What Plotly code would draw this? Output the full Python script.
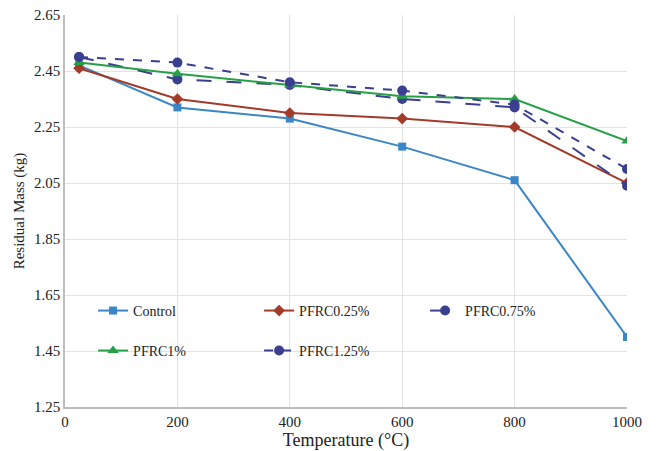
import plotly.graph_objects as go

temps = [25, 200, 400, 600, 800, 1000]
control = [2.47, 2.32, 2.28, 2.18, 2.06, 1.50]
pfrc025 = [2.46, 2.35, 2.30, 2.28, 2.25, 2.05]
pfrc075 = [2.50, 2.42, 2.40, 2.35, 2.32, 2.04]
pfrc1 = [2.48, 2.44, 2.40, 2.36, 2.35, 2.20]
pfrc125 = [2.50, 2.48, 2.41, 2.38, 2.33, 2.10]

x_ticks = [0, 200, 400, 600, 800, 1000]
y_ticks = [1.25, 1.45, 1.65, 1.85, 2.05, 2.25, 2.45, 2.65]

series = [
    ("Control", control, "#3A86C6", "square", "solid", 8, "legend"),
    ("PFRC0.25%", pfrc025, "#A33A2A", "diamond", "solid", 9, "legend"),
    ("PFRC0.75%", pfrc075, "#3A3F8F", "circle", "longdash", 10, "legend"),
    ("PFRC1%", pfrc1, "#26A046", "triangle-up", "solid", 10, "legend2"),
    ("PFRC1.25%", pfrc125, "#3A3F8F", "circle", "dash", 10, "legend2"),
]

fig = go.Figure()
for name, vals, color, sym, dash, size, leg in series:
    fig.add_trace(go.Scatter(
        x=temps, y=vals, name=name, mode="lines+markers",
        line=dict(color=color, width=2, dash=dash),
        marker=dict(symbol=sym, size=size, color=color),
        legend=leg,
    ))

font_family = "'Liberation Serif', 'Times New Roman', serif"
legend_common = dict(
    orientation="h", x=0.05, xanchor="left", yanchor="middle",
    entrywidth=121, entrywidthmode="pixels",
    font=dict(family=font_family, size=14, color="#222"),
    bgcolor="rgba(0,0,0,0)",
)
fig.update_layout(
    width=649, height=443,
    margin=dict(l=57, r=30, t=7, b=44, autoexpand=False),
    paper_bgcolor="white", plot_bgcolor="white",
    font=dict(family=font_family, size=14, color="#222"),
    showlegend=True,
    legend=dict(y=0.245, **legend_common),
    legend2=dict(y=0.143, **legend_common),
    xaxis=dict(
        range=[0, 1000], tickvals=x_ticks, ticktext=[str(t) for t in x_ticks],
        showgrid=True, gridcolor="#e3e3e3", gridwidth=1,
        showline=True, linecolor="#bdbdbd", linewidth=1.5,
        zeroline=False, ticks="", automargin=False, ticklabeloverflow="allow",
        title=dict(text="Temperature (°C)", font=dict(family=font_family, size=18), standoff=4),
        tickfont=dict(family=font_family, size=15, color="#222"),
    ),
    yaxis=dict(
        range=[1.25, 2.65], tickvals=y_ticks, ticktext=[f"{v:.2f}" for v in y_ticks],
        showgrid=True, gridcolor="#e3e3e3", gridwidth=1,
        showline=True, linecolor="#bdbdbd", linewidth=1.5,
        zeroline=False, ticks="", automargin=False, ticklabeloverflow="allow",
        title=dict(text="Residual Mass (kg)", font=dict(family=font_family, size=15), standoff=6),
        tickfont=dict(family=font_family, size=15, color="#222"),
    ),
)

fig.write_html("out.html")
